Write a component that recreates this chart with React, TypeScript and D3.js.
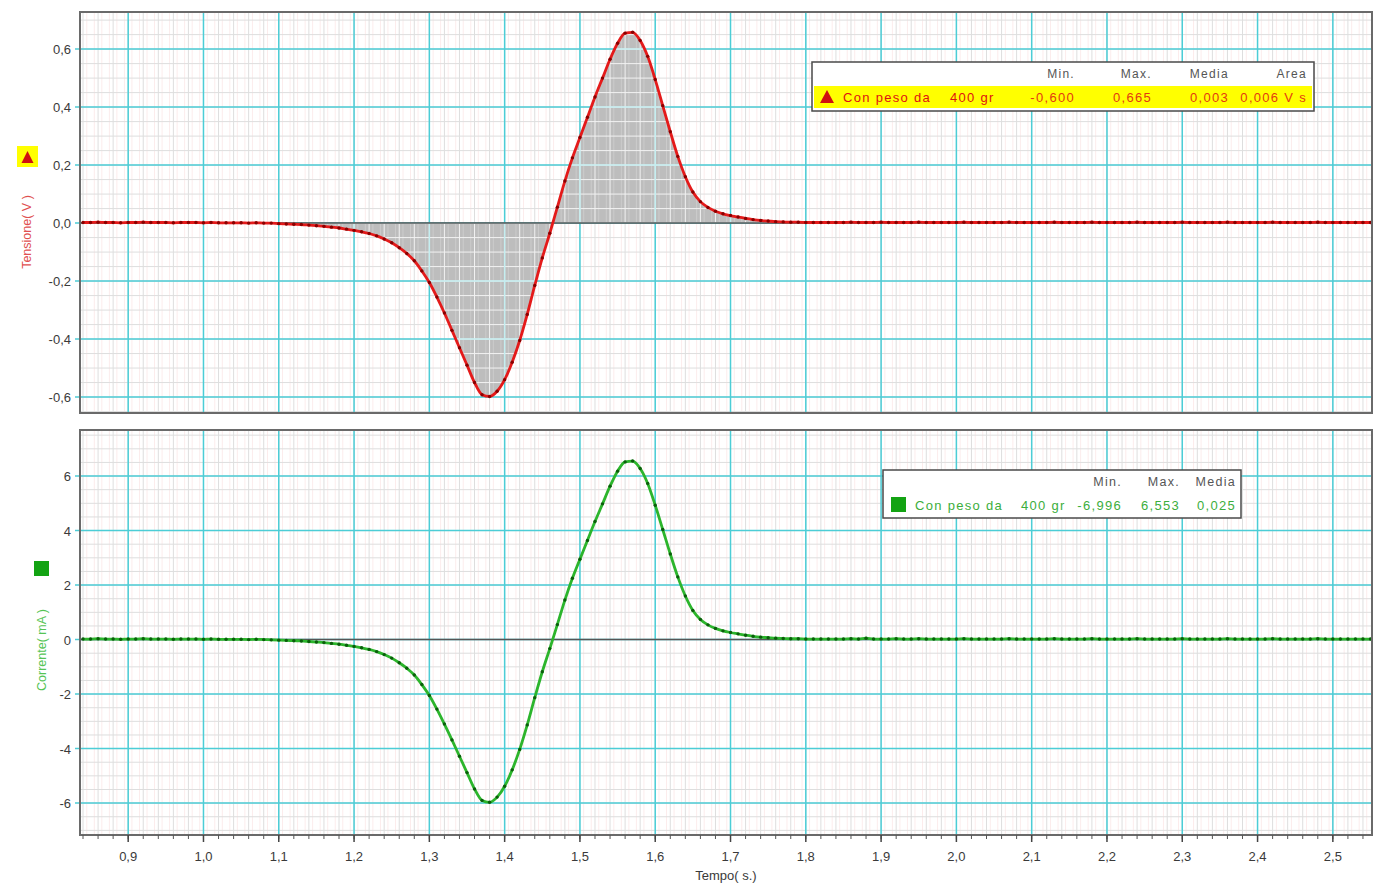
import React from "react";
import * as d3 from "d3";

// sample clock of the recording (s)
const tStart = 0.84;
const tStep = 0.01;

// Tensione (V), one value per sample, rows of 10
const voltage = [
  0.002, 0.002, 0.003, 0.002, 0.002, 0.001, 0.002, 0.002, 0.003, 0.002,
  0.002, 0.002, 0.001, 0.002, 0.002, 0.002, 0.001, 0.002, 0.001, 0.001,
  0.001, 0.001, 0.0, 0.001, 0.0, 0.0, -0.002, -0.003, -0.004, -0.005,
  -0.007, -0.009, -0.011, -0.014, -0.017, -0.021, -0.025, -0.03, -0.036, -0.044,
  -0.055, -0.068, -0.085, -0.105, -0.13, -0.165, -0.205, -0.255, -0.31, -0.37,
  -0.43, -0.49, -0.55, -0.592, -0.598, -0.58, -0.54, -0.48, -0.405, -0.315,
  -0.215, -0.12, -0.035, 0.055, 0.145, 0.225, 0.295, 0.365, 0.435, 0.5,
  0.565, 0.62, 0.655, 0.658, 0.63, 0.575, 0.495, 0.405, 0.315, 0.23,
  0.16, 0.107, 0.074, 0.054, 0.041, 0.032, 0.026, 0.021, 0.016, 0.012,
  0.009, 0.007, 0.005, 0.004, 0.003, 0.003, 0.002, 0.002, 0.002, 0.002,
  0.002, 0.002, 0.003, 0.002, 0.002, 0.002, 0.003, 0.002, 0.002, 0.002,
  0.002, 0.003, 0.002, 0.002, 0.002, 0.002, 0.002, 0.003, 0.002, 0.002,
  0.002, 0.002, 0.002, 0.003, 0.002, 0.002, 0.002, 0.002, 0.002, 0.003,
  0.002, 0.002, 0.002, 0.002, 0.003, 0.002, 0.002, 0.002, 0.002, 0.002,
  0.003, 0.002, 0.002, 0.002, 0.002, 0.002, 0.003, 0.002, 0.002, 0.002,
  0.002, 0.002, 0.003, 0.002, 0.002, 0.002, 0.002, 0.002, 0.003, 0.002,
  0.002, 0.002, 0.002, 0.002, 0.003, 0.002, 0.002, 0.002, 0.002, 0.002,
  0.002, 0.002,
];

// Corrente (mA)
const current = [
  0.02, 0.02, 0.03, 0.02, 0.02, 0.01, 0.02, 0.02, 0.03, 0.02,
  0.02, 0.02, 0.01, 0.02, 0.02, 0.02, 0.01, 0.02, 0.01, 0.01,
  0.01, 0.01, 0.0, 0.01, 0.0, -0.01, -0.02, -0.03, -0.04, -0.05,
  -0.07, -0.09, -0.11, -0.14, -0.17, -0.21, -0.25, -0.3, -0.36, -0.44,
  -0.55, -0.68, -0.85, -1.05, -1.3, -1.65, -2.05, -2.55, -3.1, -3.68,
  -4.28, -4.88, -5.48, -5.9, -5.97, -5.78, -5.38, -4.78, -4.03, -3.13,
  -2.13, -1.18, -0.33, 0.55, 1.45, 2.25, 2.95, 3.64, 4.33, 4.98,
  5.63, 6.18, 6.52, 6.55, 6.28, 5.73, 4.93, 4.04, 3.14, 2.3,
  1.6, 1.07, 0.74, 0.54, 0.41, 0.32, 0.26, 0.21, 0.16, 0.12,
  0.09, 0.07, 0.05, 0.04, 0.03, 0.03, 0.02, 0.02, 0.02, 0.02,
  0.02, 0.02, 0.03, 0.02, 0.05, 0.02, 0.02, 0.02, 0.03, 0.02,
  0.02, 0.03, 0.02, 0.02, 0.02, 0.02, 0.02, 0.03, 0.02, 0.02,
  0.02, 0.02, 0.02, 0.03, 0.02, 0.02, 0.02, 0.02, 0.02, 0.03,
  0.02, 0.02, 0.02, 0.02, 0.03, 0.02, 0.02, 0.02, 0.02, 0.02,
  0.03, 0.02, 0.02, 0.02, 0.02, 0.02, 0.03, 0.02, 0.02, 0.02,
  0.02, 0.02, 0.03, 0.02, 0.02, 0.02, 0.02, 0.02, 0.03, 0.02,
  0.02, 0.02, 0.02, 0.02, 0.03, 0.02, 0.02, 0.02, 0.02, 0.02,
  0.02, 0.02,
];

const xTicks = [0.9, 1.0, 1.1, 1.2, 1.3, 1.4, 1.5, 1.6, 1.7, 1.8, 1.9, 2.0, 2.1, 2.2, 2.3, 2.4, 2.5];
const vTicks = [-0.6, -0.4, -0.2, 0.0, 0.2, 0.4, 0.6];
const iTicks = [-6, -4, -2, 0, 2, 4, 6];

const vLegendHead = ["Min.", "Max.", "Media", "Area"];
const vLegendVals = ["-0,600", "0,665", "0,003", "0,006 V s"];
const iLegendHead = ["Min.", "Max.", "Media"];
const iLegendVals = ["-6,996", "6,553", "0,025"];
const seriesName = "Con peso da";
const seriesWeight = "400 gr";

const L = 80, R = 1372;
const FONT = "'Liberation Sans', Arial, sans-serif";
const CYAN = "#4ccdd6";
const MINOR = "#dedede";
const PINK = "#fcecec";

const fmt = (v: number, d: number) => v.toFixed(d).replace(".", ",");

const x = d3.scaleLinear().domain([0.836, 2.552]).range([L, R]);

const Panel = ({ id, top, bottom, y, values, minorStep, ticks, tickDigits, color, dot, fill }: any) => {
  const pts = values.map((v: number, i: number) => [tStart + i * tStep, v]);
  const [d0, d1] = y.domain();
  const xMinor = d3.range(42, 128).map((k) => k * 0.02).filter((t) => t > 0.836 && t < 2.552);
  const xPink = d3.range(84, 256).map((k) => k * 0.01 + 0.005).filter((t) => t > 0.836 && t < 2.552);
  const yMinor = d3.range(Math.ceil(d0 / minorStep), Math.floor(d1 / minorStep) + 1).map((k) => k * minorStep);
  const line = d3.line<any>().x((d) => x(d[0])).y((d) => y(d[1])).curve(d3.curveMonotoneX);
  const area = d3.area<any>().x((d) => x(d[0])).y0(y(0)).y1((d) => y(d[1])).curve(d3.curveMonotoneX);

  const grid = (minorCol: string, majorCol: string, pinkCol: string) => (
    <g>
      {xPink.map((t) => (
        <line key={"p" + t} x1={x(t)} x2={x(t)} y1={top} y2={bottom} stroke={pinkCol} strokeWidth={1} />
      ))}
      {yMinor.map((v) => (
        <line key={"ym" + v} x1={L} x2={R} y1={y(v)} y2={y(v)} stroke={minorCol} strokeWidth={1} />
      ))}
      {xMinor.map((t) => (
        <line key={"xm" + t} x1={x(t)} x2={x(t)} y1={top} y2={bottom} stroke={minorCol} strokeWidth={1} />
      ))}
      {ticks.map((v: number) => (
        <line key={"yM" + v} x1={L - 5} x2={R} y1={y(v)} y2={y(v)} stroke={majorCol} strokeWidth={1.5} />
      ))}
      {xTicks.map((t) => (
        <line key={"xM" + t} x1={x(t)} x2={x(t)} y1={top} y2={bottom} stroke={majorCol} strokeWidth={1.5} />
      ))}
    </g>
  );

  return (
    <g>
      <clipPath id={id + "-clip"}>
        <rect x={L} y={top} width={R - L} height={bottom - top} />
      </clipPath>
      {fill && (
        <clipPath id={id + "-area"}>
          <path d={area(pts) as string} />
        </clipPath>
      )}
      <rect x={L} y={top} width={R - L} height={bottom - top} fill="#fff" />
      {grid(MINOR, CYAN, PINK)}
      {fill && (
        <g clipPath={`url(#${id}-area)`}>
          <path d={area(pts) as string} fill="#bdbdbd" />
          {grid("#f2f2f2", "#c4eef0", "#cccccc")}
        </g>
      )}
      <line x1={L} x2={R} y1={y(0)} y2={y(0)} stroke="#555" strokeWidth={1.5} />
      <g clipPath={`url(#${id}-clip)`}>
        <path d={line(pts) as string} fill="none" stroke={color} strokeWidth={2.8} />
        {pts.map((p: number[], i: number) => (
          <circle key={i} cx={x(p[0])} cy={y(p[1])} r={1.7} fill={dot} />
        ))}
      </g>
      <rect x={L} y={top} width={R - L} height={bottom - top} fill="none" stroke="#6a6a6a" strokeWidth={2} />
      {ticks.map((v: number) => (
        <text key={"yl" + v} x={71} y={y(v) + 5} textAnchor="end" fontSize={13} fill="#3a3a3a" fontFamily={FONT}>
          {fmt(v, tickDigits)}
        </text>
      ))}
    </g>
  );
};

export default function App() {
  const yV = d3.scaleLinear().domain([-0.655, 0.728]).range([413, 12]);
  const yI = d3.scaleLinear().domain([-7.17, 7.69]).range([835, 430]);
  const xMinorTicks = d3.range(42, 128).map((k) => k * 0.02).filter((t) => t > 0.836 && t < 2.552);
  const vCols = [1075, 1152, 1229, 1307];
  const iCols = [1122, 1180, 1236];
  const sp = 1.3;

  return (
    <svg width={1376} height={885} style={{ position: "absolute", left: 0, top: 0, background: "#fff" }}>
      <Panel id="v" top={12} bottom={413} y={yV} values={voltage} minorStep={0.05} ticks={vTicks} tickDigits={1}
        color="#e41a1a" dot="#8a0000" fill />
      <Panel id="i" top={430} bottom={835} y={yI} values={current} minorStep={0.5} ticks={iTicks} tickDigits={0}
        color="#2cb52c" dot="#0b5e0b" fill={false} />

      {/* bottom time axis */}
      {xMinorTicks.map((t) => (
        <line key={"mt" + t} x1={x(t)} x2={x(t)} y1={835} y2={839} stroke="#555" strokeWidth={1} />
      ))}
      {xTicks.map((t) => (
        <g key={"xt" + t}>
          <line x1={x(t)} x2={x(t)} y1={835} y2={842} stroke="#444" strokeWidth={1.5} />
          <text x={x(t)} y={861} textAnchor="middle" fontSize={13} fill="#3a3a3a" fontFamily={FONT}>
            {fmt(t, 1)}
          </text>
        </g>
      ))}
      <text x={726} y={880} textAnchor="middle" fontSize={13} fill="#3a3a3a" fontFamily={FONT}>Tempo( s.)</text>

      {/* y axis titles */}
      <rect x={17} y={146} width={21} height={21} fill="#ffff00" />
      <path d="M 21.5 163 L 27.5 151 L 33.5 163 Z" fill="#d01010" />
      <text transform="translate(31,232) rotate(-90)" textAnchor="middle" fontSize={12.5} fill="#e05050" fontFamily={FONT}>
        Tensione( V )
      </text>
      <rect x={34} y={561} width={15} height={15} fill="#13a313" />
      <text transform="translate(46,650) rotate(-90)" textAnchor="middle" fontSize={12.5} fill="#55c455" fontFamily={FONT}>
        Corrente( mA )
      </text>

      {/* legend, tension */}
      <rect x={812} y={62} width={502} height={49} fill="#fff" stroke="#4a4a4a" strokeWidth={1.5} />
      <rect x={814} y={86} width={498} height={22} fill="#ffff00" />
      {vLegendHead.map((h, k) => (
        <text key={h} x={vCols[k]} y={78} textAnchor="end" fontSize={12} letterSpacing={sp} fill="#555" fontFamily={FONT}>{h}</text>
      ))}
      <path d="M 820 103 L 827 90 L 834 103 Z" fill="#d01010" />
      <text x={843} y={102} fontSize={13} letterSpacing={sp} fill="#e01010" fontFamily={FONT}>{seriesName}</text>
      <text x={950} y={102} fontSize={13} letterSpacing={sp} fill="#e01010" fontFamily={FONT}>{seriesWeight}</text>
      {vLegendVals.map((v, k) => (
        <text key={v} x={vCols[k]} y={102} textAnchor="end" fontSize={13} letterSpacing={sp} fill="#e43a10" fontFamily={FONT}>{v}</text>
      ))}

      {/* legend, current */}
      <rect x={883} y={470} width={358} height={48} fill="#fff" stroke="#4a4a4a" strokeWidth={1.5} />
      {iLegendHead.map((h, k) => (
        <text key={h} x={iCols[k]} y={486} textAnchor="end" fontSize={12.5} letterSpacing={sp} fill="#555" fontFamily={FONT}>{h}</text>
      ))}
      <rect x={891} y={497} width={15} height={15} fill="#13a313" />
      <text x={915} y={510} fontSize={13} letterSpacing={sp} fill="#3cae3c" fontFamily={FONT}>{seriesName}</text>
      <text x={1021} y={510} fontSize={13} letterSpacing={sp} fill="#3cae3c" fontFamily={FONT}>{seriesWeight}</text>
      {iLegendVals.map((v, k) => (
        <text key={v} x={iCols[k]} y={510} textAnchor="end" fontSize={13} letterSpacing={sp} fill="#3cae3c" fontFamily={FONT}>{v}</text>
      ))}
    </svg>
  );
}
